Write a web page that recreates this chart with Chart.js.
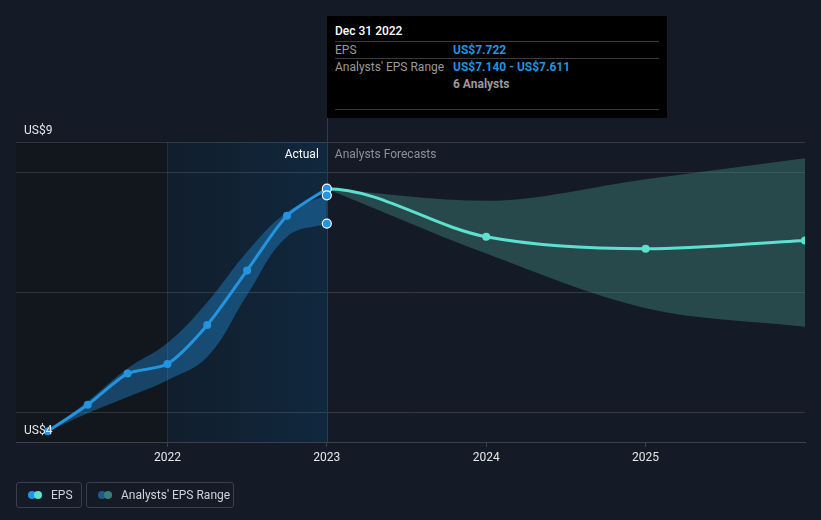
<!DOCTYPE html>
<html>
<head>
<meta charset="utf-8">
<script src="https://cdn.jsdelivr.net/npm/chart.js@4"></script>
<style>
  html, body { margin: 0; padding: 0; background: #151b26; }
  #wrap { position: relative; width: 821px; height: 520px; font-family: Roboto, "Noto Sans", sans-serif; }
  canvas { position: absolute; left: 0; top: 0; }
  #tip { position: absolute; left: 327px; top: 16px; width: 340px; height: 102px; background: #000; font-size: 12px; }
  #tip .t { position: absolute; white-space: nowrap; line-height: 14px; }
  #tip .sep { position: absolute; left: 8px; width: 324px; height: 1px; background: #3a3a3a; }
  .lg { position: absolute; top: 482px; height: 26px; border: 1px solid #3a404a; border-radius: 3px; box-sizing: border-box; font-size: 12px; color: #cfd2d6; }
  .lg .dot { position: absolute; top: 8px; width: 8px; height: 8px; border-radius: 50%; }
  .lg .lt { position: absolute; top: 5px; line-height: 14px; white-space: nowrap; }
</style>
</head>
<body>
<div id="wrap">
  <canvas id="c" width="821" height="520"></canvas>
  <div id="tip"></div>
  <div id="legend"></div>
</div>
<script>
// ---------- data ----------
const xTicks = [2022, 2023, 2024, 2025];
const yGridValues = [4, 6, 8, 8.5];
const yLabels = ["US$9", "US$4"];

const actualX = [2021.25, 2021.5, 2021.75, 2022.0, 2022.25, 2022.5, 2022.75, 2023.0];
const actualEps = [3.68, 4.12, 4.64, 4.80, 5.45, 6.36, 7.27, 7.722];
const pastLow  = [3.68, 3.98, 4.25, 4.53, 4.92, 5.95, 6.92, 7.140];
const pastHigh = [3.68, 4.18, 4.73, 5.15, 5.83, 6.67, 7.33, 7.611];

const forecastX = [2023, 2024, 2025, 2026];
const forecastEps  = [7.722, 6.92, 6.72, 6.86];
const forecastLow  = [7.722, 6.64, 5.73, 5.42];
const forecastHigh = [7.722, 7.52, 7.88, 8.23];

const hoverX = 2023;
const hoverValues = [7.722, 7.611, 7.140];

const tipTitle = "Dec 31 2022";
const tipRows = [
  ["EPS", "US$7.722"],
  ["Analysts' EPS Range", "US$7.140 - US$7.611"],
  ["", "6 Analysts"]
];
const legendItems = [
  { label: "EPS", colors: ["#2394df", "#5ee0cf"] },
  { label: "Analysts' EPS Range", colors: ["#1e5a85", "#3d7d78"] }
];

// ---------- helpers ----------
const pts = (xs, ys) => xs.map((x, i) => ({ x: x, y: ys[i] }));
const BLUE = "#2394df";
const TEAL = "#5ee0cf";

const bgPlugin = {
  id: "bg",
  beforeDraw(chart) {
    const { ctx, chartArea: a, scales } = chart;
    const x = scales.x;
    ctx.save();
    ctx.fillStyle = "#151b26";
    ctx.fillRect(0, 0, chart.width, chart.height);
    const x22 = x.getPixelForValue(2022), x23 = x.getPixelForValue(2023);
    ctx.fillStyle = "#12161d";
    ctx.fillRect(a.left, a.top, x22 - a.left, a.bottom - a.top);
    const g = ctx.createLinearGradient(x22, 0, x23, 0);
    g.addColorStop(0, "rgba(17,30,45,0.9)");
    g.addColorStop(1, "rgba(16,40,62,1)");
    ctx.fillStyle = g;
    ctx.fillRect(x22, a.top, x23 - x22, a.bottom - a.top);
    ctx.restore();
  },
  beforeDatasetsDraw(chart) {
    const { ctx, chartArea: a, scales } = chart;
    const x = scales.x;
    // flat tangent at the start of the forecast line
    const meta = chart.getDatasetMeta(2);
    if (meta && meta.dataset && meta.data.length) {
      meta.dataset.updateControlPoints(a, "x");
      const p = meta.data[0];
      p.cp2y = p.y;
      meta.dataset._path = undefined;
    }
    ctx.save();
    ctx.lineWidth = 1;
    const x22 = Math.round(x.getPixelForValue(2022)) + 0.5;
    ctx.strokeStyle = "rgba(60,90,120,0.35)";
    ctx.beginPath(); ctx.moveTo(x22, a.top); ctx.lineTo(x22, a.bottom); ctx.stroke();
    const x23 = Math.round(x.getPixelForValue(2023)) + 0.5;
    ctx.strokeStyle = "#2b3c4f";
    ctx.beginPath(); ctx.moveTo(x23, 16); ctx.lineTo(x23, a.bottom); ctx.stroke();
    ctx.restore();
  },
  afterDraw(chart) {
    const { ctx, chartArea: a, scales } = chart;
    const x = scales.x, y = scales.y;
    ctx.save();
    ctx.font = "12px Roboto, 'Noto Sans', sans-serif";
    ctx.textBaseline = "middle";
    const x23 = x.getPixelForValue(2023);
    ctx.textAlign = "right";
    ctx.fillStyle = "#ffffff";
    ctx.fillText("Actual", x23 - 8, a.top + 13);
    ctx.textAlign = "left";
    ctx.fillStyle = "#8b9099";
    ctx.fillText("Analysts Forecasts", x23 + 8, a.top + 13);
    ctx.fillStyle = "#e6e6e6";
    ctx.fillText(yLabels[0], a.left + 8, y.getPixelForValue(8.5) - 11);
    ctx.fillText(yLabels[1], a.left + 8, y.getPixelForValue(3.5) - 11);
    ctx.restore();
  }
};

const ctx = document.getElementById("c").getContext("2d");
new Chart(ctx, {
  type: "line",
  data: {
    datasets: [
      { // hover markers
        data: hoverValues.map(v => ({ x: hoverX, y: v })),
        showLine: false, pointRadius: 4.5, pointBackgroundColor: BLUE,
        pointBorderColor: "#ffffff", pointBorderWidth: 1.2
      },
      { // actual EPS
        data: pts(actualX, actualEps), borderColor: BLUE, backgroundColor: BLUE,
        borderWidth: 3, tension: 0.25, pointRadius: 4, pointBackgroundColor: BLUE, pointBorderWidth: 0
      },
      { // forecast EPS
        data: pts(forecastX, forecastEps), borderColor: TEAL, backgroundColor: TEAL,
        borderWidth: 3, cubicInterpolationMode: "monotone", pointRadius: 4,
        pointBackgroundColor: TEAL, pointBorderWidth: 0
      },
      { // past range high
        data: pts(actualX, pastHigh), borderWidth: 0, pointRadius: 0, tension: 0.4,
        fill: "+1", backgroundColor: "rgba(35,148,223,0.38)"
      },
      { // past range low
        data: pts(actualX, pastLow), borderWidth: 0, pointRadius: 0, tension: 0.4, fill: false
      },
      { // forecast range high
        data: pts(forecastX, forecastHigh), borderWidth: 0, pointRadius: 0,
        cubicInterpolationMode: "monotone",
        fill: "+1", backgroundColor: "rgba(70,150,140,0.38)"
      },
      { // forecast range low
        data: pts(forecastX, forecastLow), borderWidth: 0, pointRadius: 0,
        cubicInterpolationMode: "monotone", fill: false
      }
    ]
  },
  options: {
    responsive: false,
    animation: false,
    devicePixelRatio: 1,
    layout: { padding: { left: 16, right: 16, top: 142, bottom: 52 } },
    plugins: { legend: { display: false }, tooltip: { enabled: false } },
    scales: {
      x: {
        type: "linear", min: 2021.05, max: 2026.0,
        afterBuildTicks: s => { s.ticks = xTicks.map(v => ({ value: v })); },
        afterFit: s => { s.height = 26; },
        ticks: { color: "#e6e6e6", font: { family: "Roboto", size: 12 }, padding: 4,
                 callback: v => String(v), maxRotation: 0 },
        grid: { drawOnChartArea: false, drawTicks: true, tickLength: 5, color: "#3b414b" },
        border: { display: true, color: "#3b414b" }
      },
      y: {
        type: "linear", min: 3.5, max: 8.5,
        afterBuildTicks: s => { s.ticks = yGridValues.map(v => ({ value: v })); },
        afterFit: s => { s.width = 0; },
        ticks: { display: false },
        grid: { color: "rgba(255,255,255,0.13)", drawTicks: false },
        border: { display: false }
      }
    }
  },
  plugins: [bgPlugin]
});

// ---------- tooltip ----------
const tip = document.getElementById("tip");
function addText(txt, left, top, color, weight) {
  const d = document.createElement("div");
  d.className = "t"; d.textContent = txt;
  d.style.left = left + "px"; d.style.top = top + "px";
  d.style.color = color; d.style.fontWeight = weight || 400;
  tip.appendChild(d);
}
function addSep(top) {
  const d = document.createElement("div");
  d.className = "sep"; d.style.top = top + "px"; tip.appendChild(d);
}
addText(tipTitle, 8, 8, "#ffffff", 500);
addSep(25);
addText(tipRows[0][0], 8, 27, "#9a9a9a");
addText(tipRows[0][1], 126, 27, BLUE, 700);
addSep(42);
addText(tipRows[1][0], 8, 44, "#9a9a9a");
addText(tipRows[1][1], 126, 44, BLUE, 700);
addText(tipRows[2][1], 126, 61, "#9a9a9a", 700);
addSep(93);

// ---------- legend ----------
const lg = document.getElementById("legend");
const boxes = [{ left: 16, width: 66, textLeft: 34 }, { left: 86, width: 148, textLeft: 34 }];
legendItems.forEach((it, i) => {
  const b = document.createElement("div");
  b.className = "lg";
  b.style.left = boxes[i].left + "px"; b.style.width = boxes[i].width + "px";
  const d1 = document.createElement("div"); d1.className = "dot";
  d1.style.left = "11px"; d1.style.background = it.colors[0];
  const d2 = document.createElement("div"); d2.className = "dot";
  d2.style.left = "17px"; d2.style.background = it.colors[1];
  const t = document.createElement("div"); t.className = "lt";
  t.style.left = boxes[i].textLeft + "px"; t.textContent = it.label;
  b.appendChild(d1); b.appendChild(d2); b.appendChild(t);
  lg.appendChild(b);
});
</script>
</body>
</html>
